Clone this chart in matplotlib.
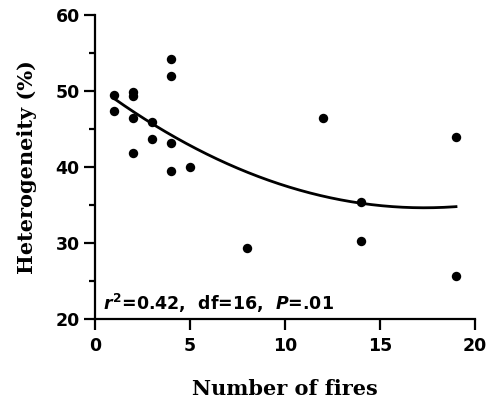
import numpy as np
import matplotlib
matplotlib.use("Agg")
import matplotlib.pyplot as plt
from matplotlib.ticker import MultipleLocator

plt.rcParams["mathtext.fontset"] = "custom"
plt.rcParams["mathtext.it"] = "DejaVu Sans:italic:bold"
plt.rcParams["mathtext.rm"] = "DejaVu Sans:bold"
plt.rcParams["mathtext.bf"] = "DejaVu Sans:bold"

# Data
fires = [1, 1, 2, 2, 2, 2, 3, 3, 4, 4, 4, 4, 5, 8, 12, 14, 14, 19, 19]
heterogeneity = [49.5, 47.4, 49.9, 49.3, 46.5, 41.9, 45.9, 43.7, 54.2, 52.0,
                 43.1, 39.5, 40.0, 29.3, 46.5, 35.4, 30.2, 43.9, 25.7]
x_ticks = [0, 5, 10, 15, 20]
y_ticks = [20, 30, 40, 50, 60]
annotation = r"$r^{2}$=0.42,  df=16,  $P$=.01"

fig = plt.figure(figsize=(4.98, 4.0), dpi=100)
ax = fig.add_axes([0.1908, 0.2025, 0.7630, 0.7600])

ax.scatter(fires, heterogeneity, s=46, color="black", zorder=3, linewidths=0)

coef = np.polyfit(fires, heterogeneity, 2)
xs = np.linspace(min(fires), max(fires), 200)
ax.plot(xs, np.polyval(coef, xs), color="black", lw=2.0, zorder=2)

ax.set_xlim(0, 20)
ax.set_ylim(20, 60)
ax.set_xticks(x_ticks)
ax.set_yticks(y_ticks)
ax.yaxis.set_minor_locator(MultipleLocator(5))

for s in ["top", "right"]:
    ax.spines[s].set_visible(False)
for s in ["left", "bottom"]:
    ax.spines[s].set_linewidth(1.6)

ax.tick_params(axis="both", which="major", direction="out", length=8, width=1.6,
               labelsize=12.5, pad=3)
ax.tick_params(axis="x", which="major", pad=5)
ax.tick_params(axis="y", which="minor", direction="out", length=4.5, width=1.6)
for lab in ax.get_xticklabels() + ax.get_yticklabels():
    lab.set_fontfamily("DejaVu Sans")
    lab.set_fontweight("bold")

ax.set_xlabel("Number of fires", fontsize=15, family="DejaVu Serif",
              fontweight="bold", labelpad=17)
ax.set_ylabel("Heterogeneity (%)", fontsize=15, family="DejaVu Serif",
              fontweight="bold", labelpad=13)

ax.text(0.02, 0.012, annotation, transform=ax.transAxes, fontsize=12.5,
        family="DejaVu Sans", fontweight="bold", ha="left", va="bottom")

fig.savefig("out.png", dpi=100)
